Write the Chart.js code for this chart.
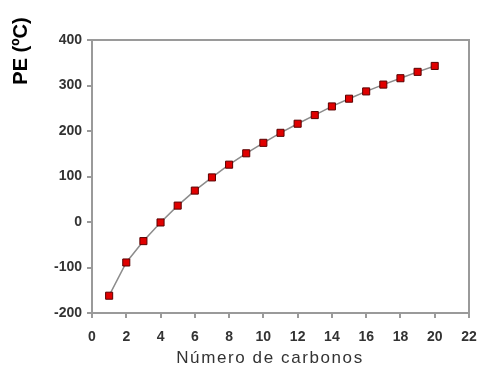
<!DOCTYPE html>
<html>
<head>
<meta charset="utf-8">
<script src="https://cdn.jsdelivr.net/npm/chart.js@4/dist/chart.umd.min.js"></script>
<style>
  html, body { margin: 0; padding: 0; background: #fff; }
  #wrap { width: 480px; height: 370px; position: relative; }
</style>
</head>
<body>
<div id="wrap"><canvas id="peChart" width="480" height="370"></canvas></div>
<script>
// numero de carbonos vs ponto de ebulicao
const carbonos = [1, 2, 3, 4, 5, 6, 7, 8, 9, 10, 11, 12, 13, 14, 15, 16, 17, 18, 19, 20];
const pontoEbulicao = [-162, -89, -42, -1, 36, 69, 98, 126, 151, 174, 196, 216, 235, 254, 271, 287, 302, 316, 330, 343];
const xTitulo = 'Número de carbonos';
const yTitulo = 'PE (ºC)';

const axisGray = '#9a9a9a';
const fontFam = '"Liberation Sans", Arial, sans-serif';

// caixa em volta da area do grafico + titulos dos eixos
const frame = {
  id: 'frame',
  beforeDatasetsDraw(chart) {
    const { ctx, chartArea: a } = chart;
    ctx.save();
    ctx.strokeStyle = axisGray;
    ctx.lineWidth = 2;
    ctx.strokeRect(a.left, a.top, a.right - a.left, a.bottom - a.top);
    ctx.restore();
  },
  afterDraw(chart) {
    const { ctx } = chart;
    ctx.save();
    ctx.letterSpacing = '0px';
    ctx.translate(21, 51);
    ctx.rotate(-Math.PI / 2);
    ctx.font = 'bold 20px ' + fontFam;
    ctx.fillStyle = '#000';
    ctx.textAlign = 'center';
    ctx.textBaseline = 'middle';
    ctx.fillText(yTitulo, 0, 0);
    ctx.restore();

    ctx.save();
    ctx.letterSpacing = '1.6px';
    ctx.font = '17px ' + fontFam;
    ctx.fillStyle = '#333';
    ctx.textAlign = 'center';
    ctx.textBaseline = 'middle';
    ctx.fillText(xTitulo, 270, 358);
    ctx.restore();
  }
};

const ctx = document.getElementById('peChart').getContext('2d');
ctx.letterSpacing = '1px';

new Chart(ctx, {
  type: 'line',
  data: {
    datasets: [{
      data: carbonos.map((c, i) => ({ x: c, y: pontoEbulicao[i] })),
      borderColor: '#8c8c8c',
      borderWidth: 1.5,
      pointStyle: 'rect',
      pointRadius: 5,
      pointBackgroundColor: '#e00000',
      pointBorderColor: '#5a0000',
      pointBorderWidth: 1,
      tension: 0,
      fill: false
    }]
  },
  options: {
    responsive: false,
    animation: false,
    layout: { padding: { top: 40, right: 11, left: 0, bottom: 0 } },
    plugins: { legend: { display: false }, tooltip: { enabled: false } },
    scales: {
      x: {
        type: 'linear',
        min: 0, max: 22,
        afterFit: s => { s.height = 57; s.paddingLeft = 0; s.paddingRight = 0; },
        ticks: { stepSize: 2, color: '#333', padding: 11, font: { family: fontFam, size: 14, weight: 'bold' } },
        grid: { drawOnChartArea: false, drawTicks: true, tickLength: 5, color: axisGray, lineWidth: 2 },
        border: { display: true, color: axisGray, width: 2 }
      },
      y: {
        min: -200, max: 400,
        afterFit: s => { s.width = 92; s.paddingTop = 0; s.paddingBottom = 0; },
        ticks: { stepSize: 100, color: '#333', padding: 5, font: { family: fontFam, size: 14, weight: 'bold' } },
        grid: { drawOnChartArea: false, drawTicks: true, tickLength: 5, color: axisGray, lineWidth: 2 },
        border: { display: true, color: axisGray, width: 2 }
      }
    }
  },
  plugins: [frame]
});
</script>
</body>
</html>
